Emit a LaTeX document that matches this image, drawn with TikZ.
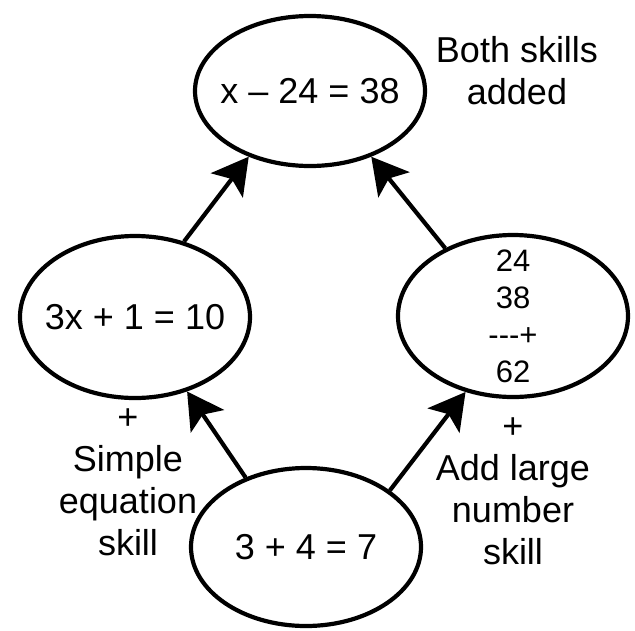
\documentclass[tikz,border=0pt]{standalone}
\usepackage{fontspec}
\newfontfamily\helv{Liberation Sans}
\usetikzlibrary{arrows.meta,shapes.geometric}
\tikzset{
  skill/.style={draw, ellipse, line width=4.2pt, minimum width=230pt,
    minimum height=162pt, inner sep=-30pt, align=center,
    font=\helv\fontsize{36}{42}\selectfont},
  stack/.style={font=\helv\fontsize{31}{37}\selectfont},
  note/.style={inner sep=0pt, align=center,
    font=\helv\fontsize{36}{42}\selectfont},
  skillarrow/.style={-{Stealth[length=36pt, width=40pt, inset=8pt]},
    line width=4.2pt}
}

\begin{document}
\begin{tikzpicture}[x=1pt, y=-1pt]
          \useasboundingbox (0,0) rectangle (635,630);
          \node[skill, minimum height=150pt] (goal) at (310,91) {x – 24 = 38};
          \node[skill] (eqn) at (135,317) {3x + 1 = 10};
          \node[skill, stack] (addn) at (513,316) {24\\38\\---+\\62};
          \node[skill, minimum height=158pt] (base) at (306,547) {3 + 4 = 7};
          \node[note] (bothlbl) at (517,71) {Both skills\\added};
          \node[note] (eqnlbl) at (128,482) {+\\Simple\\equation\\skill};
          \node[note] (addlbl) at (513,491) {+\\Add large\\number\\skill};
          \draw[skillarrow] (eqn.57) -- (goal.227);
          \draw[skillarrow] (addn.135) -- (goal.313);
          \draw[skillarrow] (base.131) -- (eqn.305);
          \draw[skillarrow] (base.34) -- (addn.238);
        \end{tikzpicture}
\end{document}
